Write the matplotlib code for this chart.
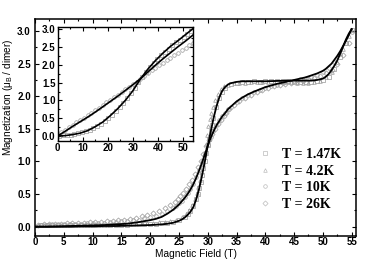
import matplotlib
matplotlib.use("Agg")
import matplotlib.pyplot as plt
from matplotlib.lines import Line2D
from matplotlib.ticker import MultipleLocator

plt.rcParams['font.family'] = ['Liberation Sans', 'DejaVu Sans']
plt.rcParams['mathtext.fontset'] = 'custom'
plt.rcParams['mathtext.rm'] = 'Liberation Sans'
plt.rcParams['mathtext.it'] = 'Liberation Sans:italic'
plt.rcParams['mathtext.default'] = 'regular'

# ---------------- data ----------------
labels = ["T = 1.47K", "T = 4.2K", "T = 10K", "T = 26K"]

# fit lines (main panel)
fit_B = [0, 2, 4, 6, 8, 10, 12, 14, 16, 18, 19, 20, 21, 22, 23, 24, 25, 25.5, 26, 26.5,
         27, 27.5, 28, 28.5, 29, 29.5, 30, 30.5, 31, 31.5, 32, 32.5, 33, 33.5, 34, 35,
         36, 37, 38, 40, 42, 44, 46, 47, 48, 49, 50, 50.5, 51, 51.5, 52, 52.5, 53, 53.5,
         54, 54.5, 55]
fit_steep = [0.0, 0.0, 0.0, 0.0, 0.005, 0.005, 0.01, 0.01, 0.015, 0.02, 0.022, 0.025, 0.03,
             0.035, 0.045, 0.06, 0.09, 0.11, 0.14, 0.18, 0.23, 0.30, 0.42, 0.58, 0.78, 1.00,
             1.24, 1.45, 1.66, 1.84, 1.98, 2.08, 2.14, 2.18, 2.20, 2.22, 2.23, 2.23, 2.23,
             2.23, 2.235, 2.24, 2.24, 2.24, 2.24, 2.25, 2.27, 2.30, 2.34, 2.40, 2.47, 2.55,
             2.65, 2.76, 2.87, 2.96, 3.03]
fit_broad = [0.0, 0.0, 0.005, 0.01, 0.015, 0.02, 0.025, 0.035, 0.045, 0.07, 0.085, 0.10,
             0.12, 0.15, 0.20, 0.26, 0.34, 0.39, 0.44, 0.50, 0.57, 0.65, 0.75, 0.86, 0.98,
             1.11, 1.24, 1.36, 1.46, 1.55, 1.62, 1.69, 1.74, 1.80, 1.84, 1.92, 1.98, 2.03,
             2.07, 2.14, 2.19, 2.23, 2.27, 2.29, 2.32, 2.35, 2.39, 2.42, 2.46, 2.50, 2.56,
             2.62, 2.69, 2.77, 2.85, 2.94, 3.03]

# measured points (main panel)
B_147 = [1, 2, 3, 4, 5, 6, 7, 8, 9, 10, 11, 12, 13, 14, 15, 16, 17, 18, 19, 20, 21, 22, 23,
         24, 25, 26, 26.5, 27, 27.5, 28, 28.25, 28.5, 28.75, 29, 29.25, 29.5, 29.75, 30,
         30.25, 30.5, 30.75, 31, 31.5, 32, 32.5, 33, 34, 35, 36, 37, 38, 39, 40, 41, 42,
         43, 44, 45, 46, 47, 48, 49, 50, 51, 52, 53, 54, 55]
M_147 = [0.02, 0.02, 0.02, 0.02, 0.02, 0.02, 0.02, 0.02, 0.025, 0.02, 0.025, 0.025, 0.03,
         0.025, 0.03, 0.03, 0.035, 0.035, 0.04, 0.04, 0.045, 0.05, 0.06, 0.07, 0.10, 0.15,
         0.19, 0.24, 0.31, 0.43, 0.50, 0.59, 0.68, 0.79, 0.90, 1.01, 1.13, 1.25, 1.35, 1.46,
         1.56, 1.66, 1.83, 1.97, 2.07, 2.13, 2.19, 2.21, 2.22, 2.22, 2.23, 2.22, 2.23, 2.23,
         2.23, 2.23, 2.23, 2.22, 2.22, 2.22, 2.22, 2.23, 2.25, 2.30, 2.42, 2.60, 2.82, 3.01]

B_42 = [0.5, 1.5, 2.5, 3.5, 4.5, 5.5, 6.5, 7.5, 8.5, 9.5, 10.5, 11.5, 12.5, 13.5, 14.5,
        15.5, 16.5, 17.5, 18.5, 19.5, 20.5, 21.5, 22.5, 23.5, 24.5, 25.5, 26.25, 26.75,
        27.25, 27.75, 28.125, 28.375, 28.625, 28.875, 29.125, 29.375, 29.625, 29.875,
        30.125, 30.375, 30.625, 30.875, 31.25, 31.75, 32.25, 32.75, 33.5, 34.5, 35.5, 36.5,
        37.5, 38.5, 39.5, 40.5, 41.5, 42.5, 43.5, 44.5, 45.5, 46.5, 47.5, 48.5, 49.5, 50.5,
        51.5, 52.5, 53.5, 54.5]
M_42 = [0.02, 0.02, 0.02, 0.02, 0.025, 0.02, 0.025, 0.025, 0.025, 0.03, 0.03, 0.03, 0.03,
        0.035, 0.035, 0.04, 0.04, 0.045, 0.05, 0.055, 0.06, 0.065, 0.075, 0.09, 0.11, 0.15,
        0.20, 0.26, 0.33, 0.43, 0.52, 0.61, 0.72, 0.84, 0.98, 1.12, 1.27, 1.41, 1.54, 1.65,
        1.75, 1.84, 1.94, 2.04, 2.11, 2.15, 2.18, 2.20, 2.21, 2.21, 2.22, 2.22, 2.22, 2.22,
        2.22, 2.22, 2.22, 2.22, 2.21, 2.21, 2.21, 2.22, 2.24, 2.29, 2.37, 2.52, 2.72, 2.92]

B_10 = [1, 2, 3, 4, 5, 6, 7, 8, 9, 10, 11, 12, 13, 14, 15, 16, 17, 18, 19, 20, 21, 22, 23,
        24, 24.5, 25, 25.5, 26, 26.5, 27, 27.5, 28, 28.5, 29, 29.5, 30, 30.5, 31, 31.5, 32,
        32.5, 33, 33.5, 34, 35, 36, 37, 38, 39, 40, 41, 42, 43, 44, 45, 46, 47, 48, 49, 50,
        51, 52, 53, 54, 55]
M_10 = [0.03, 0.03, 0.035, 0.035, 0.04, 0.04, 0.045, 0.045, 0.05, 0.05, 0.055, 0.06, 0.065,
        0.07, 0.08, 0.09, 0.10, 0.11, 0.13, 0.15, 0.17, 0.20, 0.24, 0.29, 0.32, 0.36, 0.40,
        0.45, 0.51, 0.58, 0.66, 0.76, 0.87, 0.99, 1.12, 1.25, 1.37, 1.47, 1.56, 1.63, 1.70,
        1.75, 1.80, 1.84, 1.91, 1.97, 2.02, 2.06, 2.10, 2.13, 2.16, 2.18, 2.20, 2.22, 2.24,
        2.26, 2.28, 2.30, 2.33, 2.37, 2.43, 2.52, 2.65, 2.81, 2.99]

B_26 = [0.5, 1.5, 2.5, 3.5, 4.5, 5.5, 6.5, 7.5, 8.5, 9.5, 10.5, 11.5, 12.5, 13.5, 14.5,
        15.5, 16.5, 17.5, 18.5, 19.5, 20.5, 21.5, 22.5, 23.5, 24.25, 24.75, 25.25, 25.75,
        26.25, 26.75, 27.25, 27.75, 28.25, 28.75, 29.25, 29.75, 30.25, 30.75, 31.25, 31.75,
        32.25, 32.75, 33.25, 33.75, 34.5, 35.5, 36.5, 37.5, 38.5, 39.5, 40.5, 41.5, 42.5,
        43.5, 44.5, 45.5, 46.5, 47.5, 48.5, 49.5, 50.5, 51.5, 52.5, 53.5, 54.5]
M_26 = [0.03, 0.035, 0.04, 0.04, 0.045, 0.05, 0.05, 0.055, 0.06, 0.065, 0.07, 0.075, 0.08,
        0.09, 0.10, 0.11, 0.12, 0.14, 0.16, 0.18, 0.21, 0.24, 0.28, 0.33, 0.38, 0.42, 0.47,
        0.52, 0.58, 0.65, 0.72, 0.81, 0.91, 1.01, 1.12, 1.23, 1.33, 1.42, 1.50, 1.58, 1.64,
        1.70, 1.75, 1.80, 1.86, 1.92, 1.98, 2.02, 2.06, 2.10, 2.13, 2.15, 2.17, 2.19, 2.21,
        2.22, 2.24, 2.26, 2.28, 2.31, 2.35, 2.41, 2.50, 2.64, 2.82]

# inset
inset_fit_B = [0, 3, 6, 9, 12, 15, 18, 21, 24, 27, 30, 33, 36, 39, 42, 45, 48, 51, 54]
inset_fit_a = [0.0, 0.13, 0.27, 0.40, 0.53, 0.67, 0.82, 0.97, 1.12, 1.28, 1.44, 1.61, 1.80,
               1.99, 2.17, 2.34, 2.51, 2.67, 2.84]
inset_fit_b = [0.0, 0.01, 0.04, 0.08, 0.15, 0.26, 0.39, 0.57, 0.77, 1.00, 1.27, 1.60, 1.88,
               2.12, 2.33, 2.52, 2.68, 2.85, 3.02]
inset_B_a = [0, 1.5, 3, 4.5, 6, 7.5, 9, 10.5, 12, 13.5, 15, 16.5, 18, 19.5, 21, 22.5, 24,
             25.5, 27, 28.5, 30, 31.5, 33, 34.5, 36, 37.5, 39, 40.5, 42, 43.5, 45, 46.5, 48,
             49.5, 51, 52.5, 54]
inset_M_a = [0.02, 0.10, 0.17, 0.25, 0.32, 0.39, 0.46, 0.52, 0.59, 0.66, 0.73, 0.80, 0.88,
             0.95, 1.02, 1.09, 1.16, 1.24, 1.31, 1.39, 1.46, 1.53, 1.61, 1.69, 1.77, 1.85,
             1.92, 1.99, 2.06, 2.13, 2.20, 2.27, 2.34, 2.41, 2.48, 2.55, 2.62]
inset_B_b = [0.75, 2.25, 3.75, 5.25, 6.75, 8.25, 9.75, 11.25, 12.75, 14.25, 15.75, 17.25,
             18.75, 20.25, 21.75, 23.25, 24.75, 26.25, 27.75, 29.25, 30.75, 32.25, 33.75,
             35.25, 36.75, 38.25, 39.75, 41.25, 42.75, 44.25, 45.75, 47.25, 48.75, 50.25,
             51.75, 53.25]
inset_M_b = [0.01, 0.02, 0.03, 0.04, 0.06, 0.08, 0.10, 0.14, 0.18, 0.23, 0.29, 0.35, 0.43,
             0.51, 0.60, 0.70, 0.81, 0.93, 1.06, 1.20, 1.35, 1.51, 1.66, 1.80, 1.93, 2.05,
             2.16, 2.27, 2.37, 2.46, 2.55, 2.63, 2.71, 2.79, 2.87, 2.96]

main_xticks = [0, 5, 10, 15, 20, 25, 30, 35, 40, 45, 50, 55]
main_yticks = [0.0, 0.5, 1.0, 1.5, 2.0, 2.5, 3.0]
inset_xticks = [0, 10, 20, 30, 40, 50]
inset_yticks = [0.0, 0.5, 1.0, 1.5, 2.0, 2.5, 3.0]

# ---------------- figure ----------------
fig = plt.figure(figsize=(3.74, 2.59), dpi=100)
ax = fig.add_axes([35/374, 23/259, 321/374, 217/259])

gray = '#a0a0a0'
mk = dict(linestyle='none', markerfacecolor='none', markeredgecolor=gray,
          markeredgewidth=0.55, markersize=2.6)
series = [(B_147, M_147, 's'), (B_42, M_42, '^'), (B_10, M_10, 'o'), (B_26, M_26, 'D')]
for (bx, my, m) in series:
    ax.plot(bx, my, marker=m, **mk)
ax.plot(fit_B, fit_steep, color='black', lw=1.3)
ax.plot(fit_B, fit_broad, color='black', lw=1.3)

ax.set_xlim(0, 55.75)
ax.set_ylim(-0.143, 3.185)
ax.set_xticks(main_xticks)
ax.set_yticks(main_yticks)
ax.set_xticklabels([str(t) for t in main_xticks])
ax.set_yticklabels([f"{t:.1f}" for t in main_yticks])
ax.xaxis.set_minor_locator(MultipleLocator(2.5))
ax.yaxis.set_minor_locator(MultipleLocator(0.25))
ax.tick_params(which='both', direction='in', top=True, right=True, width=0.8)
ax.tick_params(which='major', length=3, labelsize=7)
ax.tick_params(axis='x', which='major', pad=1.0)
ax.tick_params(axis='y', which='major', pad=3.0)
ax.tick_params(which='minor', length=1.6)
for lab in ax.get_xticklabels() + ax.get_yticklabels():
    lab.set_fontweight('bold')
for s in ax.spines.values():
    s.set_linewidth(1.1)

ax.set_xlabel("Magnetic Field (T)", fontsize=7.3, labelpad=1)
ax.set_ylabel(r"Magnetization ($\mu_B$ / dimer)", fontsize=7.2)
ax.yaxis.set_label_coords(-0.062, 0.64)

handles = [Line2D([], [], marker=m, linestyle='none', markerfacecolor='none',
                  markeredgecolor='#bbbbbb', markeredgewidth=0.5, markersize=2.6)
           for (_, _, m) in series]
leg = ax.legend(handles, labels, loc='upper left', bbox_to_anchor=(0.70, 0.405),
                frameon=False, handlelength=0.8, handletextpad=0.8, labelspacing=0.26,
                borderaxespad=0, borderpad=0,
                prop={'family': 'Liberation Serif', 'weight': 'bold', 'size': 10})

# inset
ins = fig.add_axes([57.5/374, 118.3/259, 135.8/374, 114/259])
ins.plot(inset_B_a, inset_M_a, marker='o', **mk)
ins.plot(inset_B_b, inset_M_b, marker='s', **mk)
ins.plot(inset_fit_B, inset_fit_a, color='black', lw=1.2)
ins.plot(inset_fit_B, inset_fit_b, color='black', lw=1.2)
ins.set_xlim(0, 54.1)
ins.set_ylim(-0.132, 3.073)
ins.set_xticks(inset_xticks)
ins.set_yticks(inset_yticks)
ins.set_xticklabels([str(t) for t in inset_xticks])
ins.set_yticklabels([f"{t:.1f}" for t in inset_yticks])
ins.xaxis.set_minor_locator(MultipleLocator(5))
ins.yaxis.set_minor_locator(MultipleLocator(0.25))
ins.tick_params(which='both', direction='in', top=True, right=True, width=0.8)
ins.tick_params(which='major', length=3, labelsize=7, pad=1.5)
ins.tick_params(which='minor', length=1.6)
for lab in ins.get_xticklabels() + ins.get_yticklabels():
    lab.set_fontweight('bold')
for s in ins.spines.values():
    s.set_linewidth(1.0)

fig.savefig("out.png", dpi=100)
